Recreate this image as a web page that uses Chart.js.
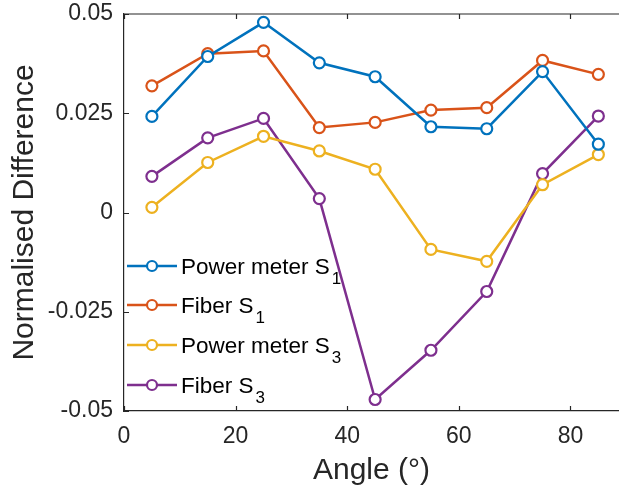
<!DOCTYPE html>
<html>
<head>
<meta charset="utf-8">
<script src="https://cdn.jsdelivr.net/npm/chart.js@4"></script>
<style>
  html, body { margin: 0; padding: 0; background: #fff; }
  #wrap { width: 619px; height: 492px; }
</style>
</head>
<body>
<div id="wrap"><canvas id="chart" width="619" height="492"></canvas></div>
<script>
"use strict";

// angles (deg) and measured normalised differences
const ANGLES = [5, 15, 25, 35, 45, 55, 65, 75, 85];
const PM_S1 = [0.0242, 0.0393, 0.0479, 0.0377, 0.0342, 0.0216, 0.0211, 0.0355, 0.0172];
const FIBER_S1 = [0.0319, 0.0400, 0.0407, 0.0214, 0.0227, 0.0258, 0.0264, 0.0383, 0.0348];
const PM_S3 = [0.0013, 0.0126, 0.0192, 0.0155, 0.0109, -0.0093, -0.0123, 0.0070, 0.0146];
const FIBER_S3 = [0.0091, 0.0188, 0.0237, 0.0035, -0.0471, -0.0347, -0.0199, 0.0098, 0.0243];

const SERIES_NAMES = ["Power meter S", "Fiber S", "Power meter S", "Fiber S"];
const SERIES_SUBS = ["1", "1", "3", "3"];
const SERIES_COLORS = ["#0072BD", "#D95319", "#EDB120", "#7E2F8E"];

const X_TICKS = [0, 20, 40, 60, 80];
const Y_TICKS = [-0.05, -0.025, 0, 0.025, 0.05];

const AXIS_COLOR = "#262626";
const FONT = "'Liberation Sans', Arial, Helvetica, sans-serif";

function toPoints(ys) {
  return ys.map((y, i) => ({ x: ANGLES[i], y }));
}

const datasets = [PM_S1, FIBER_S1, PM_S3, FIBER_S3].map((ys, i) => ({
  label: SERIES_NAMES[i] + SERIES_SUBS[i],
  data: toPoints(ys),
  borderColor: SERIES_COLORS[i],
  backgroundColor: "#ffffff",
  borderWidth: 2.5,
  pointRadius: 5.5,
  pointBorderWidth: 2.2,
  pointBackgroundColor: "#ffffff",
  pointBorderColor: SERIES_COLORS[i],
  tension: 0,
}));

// inward ticks + top frame line (matlab style box)
const frame = {
  id: "frame",
  afterDatasetsDraw(chart) {
    const { ctx, chartArea: a, scales: { x, y } } = chart;
    ctx.save();
    ctx.strokeStyle = AXIS_COLOR;
    ctx.lineWidth = 1.2;
    ctx.beginPath();
    ctx.moveTo(a.left, a.top);
    ctx.lineTo(a.right, a.top);
    X_TICKS.forEach((v) => {
      const px = Math.round(x.getPixelForValue(v)) + 0.5;
      ctx.moveTo(px, a.bottom);
      ctx.lineTo(px, a.bottom - 5);
      ctx.moveTo(px, a.top);
      ctx.lineTo(px, a.top + 5);
    });
    Y_TICKS.forEach((v) => {
      const py = Math.round(y.getPixelForValue(v)) + 0.5;
      ctx.moveTo(a.left, py);
      ctx.lineTo(a.left + 5, py);
    });
    ctx.stroke();
    ctx.restore();
  },
};

// legend with subscripts, no box
const subLegend = {
  id: "subLegend",
  afterDraw(chart) {
    const { ctx } = chart;
    const x0 = 127, x1 = 177, textX = 181;
    const rowY = [266, 305, 345, 385];
    ctx.save();
    chart.data.datasets.forEach((ds, i) => {
      const yy = rowY[i];
      ctx.strokeStyle = ds.borderColor;
      ctx.lineWidth = 2.5;
      ctx.beginPath();
      ctx.moveTo(x0, yy);
      ctx.lineTo(x1, yy);
      ctx.stroke();
      ctx.beginPath();
      ctx.arc((x0 + x1) / 2, yy, 5, 0, Math.PI * 2);
      ctx.fillStyle = "#fff";
      ctx.fill();
      ctx.lineWidth = 2.2;
      ctx.stroke();
      ctx.fillStyle = "#000";
      ctx.textBaseline = "alphabetic";
      ctx.font = "22.5px " + FONT;
      const name = SERIES_NAMES[i];
      ctx.fillText(name, textX, yy + 8);
      const w = ctx.measureText(name).width;
      ctx.font = "17px " + FONT;
      ctx.fillText(SERIES_SUBS[i], textX + w + 2, yy + 18);
    });
    ctx.restore();
  },
};

new Chart(document.getElementById("chart"), {
  type: "line",
  data: { datasets },
  plugins: [frame, subLegend],
  options: {
    responsive: false,
    animation: false,
    layout: { autoPadding: false, padding: { top: 14, right: 0, bottom: 0, left: 0 } },
    plugins: { legend: { display: false }, tooltip: { enabled: false } },
    scales: {
      x: {
        type: "linear",
        min: 0,
        max: 88.7,
        afterBuildTicks: (s) => { s.ticks = X_TICKS.map((v) => ({ value: v })); },
        afterFit: (s) => { s.height = 81; s.paddingLeft = 0; s.paddingRight = 0; },
        grid: { drawOnChartArea: false, drawTicks: false },
        border: { display: true, color: AXIS_COLOR, width: 1.2 },
        ticks: { color: AXIS_COLOR, padding: 12, maxRotation: 0, font: { family: FONT, size: 23 } },
        title: {
          display: true,
          text: "Angle (°)",
          color: AXIS_COLOR,
          padding: { top: 0, bottom: 3 },
          font: { family: FONT, size: 30 },
        },
      },
      y: {
        type: "linear",
        min: -0.05,
        max: 0.05,
        afterBuildTicks: (s) => { s.ticks = Y_TICKS.map((v) => ({ value: v })); },
        afterFit: (s) => { s.width = 124; s.paddingTop = 0; s.paddingBottom = 0; },
        grid: { drawOnChartArea: false, drawTicks: false },
        border: { display: true, color: AXIS_COLOR, width: 1.2 },
        ticks: {
          color: AXIS_COLOR,
          padding: 11,
          font: { family: FONT, size: 23 },
          callback: (v) => String(Number(v.toFixed(3))),
        },
        title: {
          display: true,
          text: "Normalised Difference",
          color: AXIS_COLOR,
          padding: { top: 7, bottom: 0 },
          font: { family: FONT, size: 30 },
        },
      },
    },
  },
});
</script>
</body>
</html>
